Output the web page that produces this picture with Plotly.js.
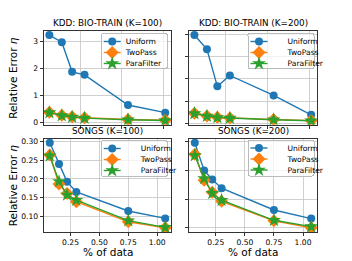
<!DOCTYPE html>
<html>
<head>
<meta charset="utf-8">
<script src="https://cdn.plot.ly/plotly-3.0.1.min.js"></script>
<style>html,body{margin:0;padding:0;background:#fff;}#chart{width:352px;height:261px;}</style>
</head>
<body>
<div id="chart"></div>
<script>
const seriesNames = ["Uniform", "TwoPass", "ParaFilter"];
const xTop = [0.05, 0.11, 0.16, 0.22, 0.43, 0.61];
const xBottom = [0.07, 0.15, 0.22, 0.30, 0.75, 1.07];
const uniformBioK100 = [3.22, 2.96, 1.87, 1.76, 0.65, 0.37];
const twoPassBioK100 = [0.38, 0.27, 0.22, 0.18, 0.12, 0.09];
const paraFilterBioK100 = [0.37, 0.26, 0.21, 0.17, 0.11, 0.08];
const uniformBioK200 = [3.97, 3.33, 1.66, 2.15, 1.25, 0.38];
const twoPassBioK200 = [0.45, 0.33, 0.27, 0.24, 0.17, 0.12];
const paraFilterBioK200 = [0.44, 0.32, 0.26, 0.23, 0.16, 0.11];
const uniformSongsK100 = [0.297, 0.240, 0.192, 0.165, 0.114, 0.094];
const twoPassSongsK100 = [0.264, 0.186, 0.161, 0.139, 0.085, 0.069];
const paraFilterSongsK100 = [0.262, 0.193, 0.157, 0.143, 0.088, 0.070];
const uniformSongsK200 = [0.198, 0.150, 0.134, 0.119, 0.081, 0.066];
const twoPassSongsK200 = [0.178, 0.133, 0.112, 0.096, 0.062, 0.050];
const paraFilterSongsK200 = [0.176, 0.136, 0.110, 0.098, 0.063, 0.052];
const panelTitles = ["KDD: BIO-TRAIN (K=100)", "KDD: BIO-TRAIN (K=200)", "SONGS (K=100)", "SONGS (K=200)"];
const xLabel = "% of data";
const yLabel = "Relative Error <i>η</i>";

const colors = ["#1f77b4", "#ff7f0e", "#2ca02c"];
const symbols = ["circle", "diamond", "star"];
const msizes = [8, 10, 10.5];

const panels = [
  {x: xTop, ys: [uniformBioK100, twoPassBioK100, paraFilterBioK100], xa: "x", ya: "y", lg: "legend"},
  {x: xTop, ys: [uniformBioK200, twoPassBioK200, paraFilterBioK200], xa: "x2", ya: "y2", lg: "legend2"},
  {x: xBottom, ys: [uniformSongsK100, twoPassSongsK100, paraFilterSongsK100], xa: "x3", ya: "y3", lg: "legend3"},
  {x: xBottom, ys: [uniformSongsK200, twoPassSongsK200, paraFilterSongsK200], xa: "x4", ya: "y4", lg: "legend4"}
];

const traces = [];
panels.forEach(p => {
  p.ys.forEach((y, i) => {
    traces.push({
      type: "scatter", mode: "lines+markers",
      x: p.x, y: y, name: seriesNames[i],
      xaxis: p.xa, yaxis: p.ya, legend: p.lg,
      line: {color: colors[i], width: 1.4},
      marker: {color: colors[i], symbol: symbols[i], size: msizes[i], line: {width: 0}}
    });
  });
});

function ax(extra) {
  return Object.assign({
    showline: true, mirror: true, linecolor: "#000", linewidth: 0.8,
    showgrid: true, gridcolor: "#c4c4c4", gridwidth: 0.8,
    zeroline: false, ticks: "outside", ticklen: 3.5, tickwidth: 0.8, tickcolor: "#000",
    tickfont: {family: "DejaVu Sans", size: 7.6, color: "#000"}
  }, extra);
}
const dxL = [44/352, 171/352], dxR = [189/352, 317/352];
const dyT = [1 - 124.8/261, 1 - 30.8/261], dyB = [1 - 232/261, 1 - 138.6/261];

// legend boxes (left, top, width, height) in pixels
const legendBoxes = {
  legend: [100.7, 33, 66, 35],
  legend2: [247.5, 33, 66, 35],
  legend3: [100.7, 140, 66, 36],
  legend4: [247.5, 139.5, 66, 36]
};
const legendBase = {
  xanchor: "left", yanchor: "top", bgcolor: "rgba(255,255,255,0.85)",
  bordercolor: "#bbbbbb", borderwidth: 1, font: {family: "DejaVu Sans", size: 7.6, color: "#000"},
  tracegroupgap: 0
};
function lg(id) {
  const b = legendBoxes[id];
  return Object.assign({x: b[0]/352, y: 1 - b[1]/261}, legendBase);
}

const layout = {
  width: 352, height: 261,
  margin: {l: 0, r: 0, t: 0, b: 0},
  paper_bgcolor: "#fff", plot_bgcolor: "#fff",
  font: {family: "DejaVu Sans", color: "#000"},
  xaxis: ax({domain: dxL, anchor: "y", range: [0.024, 0.638], dtick: 0.2, tick0: 0, showticklabels: false}),
  yaxis: ax({domain: dyT, anchor: "x", range: [-0.077, 3.377], dtick: 1, tick0: 0}),
  xaxis2: ax({domain: dxR, anchor: "y2", range: [0.024, 0.638], dtick: 0.2, tick0: 0, showticklabels: false}),
  yaxis2: ax({domain: dyT, anchor: "x2", range: [-0.07, 4.16], dtick: 1, tick0: 0, showticklabels: false}),
  xaxis3: ax({domain: dxL, anchor: "y3", range: [0.02, 1.12], dtick: 0.25, tick0: 0, tickformat: ".2f"}),
  yaxis3: ax({domain: dyB, anchor: "x3", range: [0.0576, 0.308], dtick: 0.05, tick0: 0, tickformat: ".2f"}),
  xaxis4: ax({domain: dxR, anchor: "y4", range: [0.02, 1.12], dtick: 0.25, tick0: 0, tickformat: ".2f"}),
  yaxis4: ax({domain: dyB, anchor: "x4", range: [0.0426, 0.2054], dtick: 0.05, tick0: 0, showticklabels: false}),
  legend: lg("legend"), legend2: lg("legend2"), legend3: lg("legend3"), legend4: lg("legend4"),
  annotations: [
    {text: panelTitles[0], x: 107.5/352, y: 1 - 23.3/261},
    {text: panelTitles[1], x: 253/352, y: 1 - 23.3/261},
    {text: panelTitles[2], x: 107.5/352, y: 1 - 131/261},
    {text: panelTitles[3], x: 253/352, y: 1 - 131/261},
    {text: xLabel, x: 107.5/352, y: 1 - 252.3/261, size: 10.5},
    {text: xLabel, x: 253/352, y: 1 - 252.3/261, size: 10.5},
    {text: yLabel, x: 13/352, y: 1 - 77.8/261, size: 10.5, textangle: -90},
    {text: yLabel, x: 13/352, y: 1 - 185.3/261, size: 10.5, textangle: -90}
  ].map(a => ({
    text: a.text, x: a.x, y: a.y, xref: "paper", yref: "paper",
    xanchor: "center", yanchor: "middle", showarrow: false,
    textangle: a.textangle || 0, borderpad: 0,
    font: {family: "DejaVu Sans", size: a.size || 8.8, color: "#000"}
  }))
};

function compactLegends(gd) {
  const groups = gd.querySelectorAll(".infolayer > g");
  groups.forEach(g => {
    const cls = g.getAttribute("class") || "";
    if (!/^legend\d*$/.test(cls)) return;
    const b = legendBoxes[cls];
    if (!b) return;
    g.setAttribute("transform", "translate(" + b[0] + "," + b[1] + ")");
    const bg = g.querySelector("rect.bg");
    if (bg) {
      bg.setAttribute("width", b[2]); bg.setAttribute("height", b[3]);
      bg.setAttribute("x", 0.5); bg.setAttribute("y", 0.5);
      bg.setAttribute("rx", 2); bg.setAttribute("ry", 2);
      bg.style.stroke = "#bbbbbb"; bg.style.strokeWidth = "1px"; bg.style.fill = "rgba(255,255,255,0.85)";
    }
    const sb = g.querySelector(".scrollbox");
    if (sb) { sb.setAttribute("transform", ""); sb.removeAttribute("clip-path"); }
    g.querySelectorAll(".traces").forEach((t, i) => {
      t.setAttribute("transform", "translate(0," + (8.5 + i * 11) + ")");
      t.querySelectorAll(".legendlines path").forEach(p => p.setAttribute("d", "M3,0h17"));
      t.querySelectorAll(".legendpoints path").forEach(p => p.setAttribute("transform", "translate(11.5,0)"));
      const tx = t.querySelector("text.legendtext");
      if (tx) {
        tx.setAttribute("x", 25); tx.setAttribute("text-anchor", "start");
        tx.querySelectorAll("tspan").forEach(s => { if (s.hasAttribute("x")) s.setAttribute("x", 25); });
      }
    });
  });
}

Plotly.newPlot("chart", traces, layout, {staticPlot: true, displayModeBar: false}).then(gd => {
  compactLegends(gd);
  gd.on("plotly_afterplot", () => compactLegends(gd));
  setTimeout(() => compactLegends(gd), 50);
});
</script>
</body>
</html>
